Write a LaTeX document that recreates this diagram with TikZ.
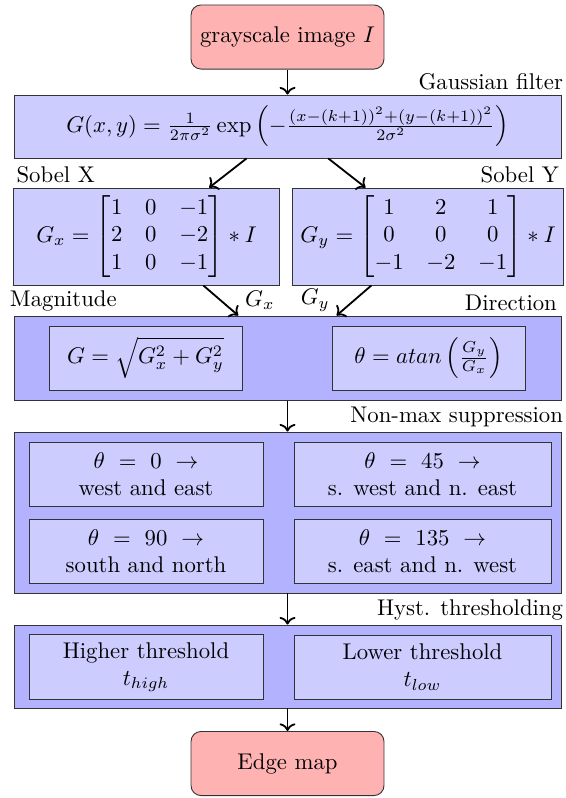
\documentclass[tikz,border=0pt]{standalone}
\usepackage{amsmath}
\usetikzlibrary{arrows.meta,calc,positioning}
\tikzset {
  >=To,
  every node/.style={font=\normalsize},
  every label/.style={yshift=-1.5pt},
}

\begin{document}
\begin{tikzpicture}[x=0.44pt,y=-0.44pt,
    terminal/.style={draw=black!80,fill=red!30,rounded corners=4.4pt,
      minimum width=84.9pt,minimum height=28.2pt},
    stage/.style={draw=black!80,fill=blue!20,align=center},
    group/.style={draw=black!80,fill=blue!30,minimum width=240.7pt},
    flow/.style={->,thick}]
  \useasboundingbox (0,0) rectangle (566,798);
  % input and Gaussian smoothing
  \node[terminal] (img) at (287.5,37) {grayscale image $I$};
  \node[stage,minimum width=240.7pt,minimum height=27.7pt,
    label={[anchor=south east,xshift=4.2pt]north east:Gaussian filter}] (gauss) at (287.5,126.5)
    {$G(x,y) = \frac{1}{2\pi\sigma^2}\exp\left(-\frac{(x-(k+1))^2+(y-(k+1))^2}{2\sigma^2}\right)$};
  % Sobel gradients
  \node[stage,minimum width=117pt,minimum height=41.8pt,
    label={[anchor=south west,xshift=-2pt]north west:Sobel X}] (sobx) at (146.5,236.5)
    {$G_x = \begin{bmatrix}1&0&-1\\2&0&-2\\1&0&-1\end{bmatrix} * I$};
  \node[stage,minimum width=117pt,minimum height=41.8pt,
    label={[anchor=south east,xshift=1.5pt]north east:Sobel Y}] (soby) at (428,236.5)
    {$G_y = \begin{bmatrix}1&2&1\\0&0&0\\-1&-2&-1\end{bmatrix} * I$};
  % magnitude and direction
  \node[group,minimum height=37pt,
    label={[anchor=south west,xshift=-5.1pt]north west:Magnitude},
    label={[anchor=south east,xshift=1.5pt]north east:Direction}] (grad) at (287.5,358) {};
  \node[stage,minimum width=84.9pt,minimum height=28.2pt] (mag) at (145.5,358)
    {$G = \sqrt{G_x^2 + G_y^2}$};
  \node[stage,minimum width=84.9pt,minimum height=28.2pt] (dir) at (428.5,358)
    {$\theta = atan\left(\frac{G_y}{G_x}\right)$};
  % non-maximum suppression
  \node[group,minimum height=70.8pt,
    label={[anchor=south east,xshift=4.2pt]north east:Non-max suppression}] (nms) at (287.5,512.5) {};
  \node[stage,minimum width=103pt,minimum height=28.2pt] (nmsa) at (146,474)
    {$\theta\ =\ 0\ \rightarrow$\\west and east};
  \node[stage,minimum width=113.1pt,minimum height=28.2pt] (nmsb) at (422.5,474)
    {$\theta\ =\ 45\ \rightarrow$\\s. west and n. east};
  \node[stage,minimum width=103pt,minimum height=28.2pt] (nmsc) at (146,551)
    {$\theta\ =\ 90\ \rightarrow$\\south and north};
  \node[stage,minimum width=113.1pt,minimum height=28.2pt] (nmsd) at (422.5,551)
    {$\theta\ =\ 135\ \rightarrow$\\s. east and n. west};
  % hysteresis
  \node[group,minimum height=36.5pt,
    label={[anchor=south east,xshift=4.2pt]north east:Hyst. thresholding}] (hyst) at (287.5,666.5) {};
  \node[stage,minimum width=103pt,minimum height=28.2pt] (high) at (146,667)
    {Higher threshold\\$t_{high}$};
  \node[stage,minimum width=113.1pt,minimum height=28.2pt] (low) at (422.5,667)
    {Lower threshold\\$t_{low}$};
  \node[terminal] (edge) at (287.5,763.5) {Edge map};

  \draw[flow] (img) -- (gauss);
  \draw[flow] (gauss) -- (sobx);
  \draw[flow] (gauss) -- (soby);
  \draw[flow] (sobx) -- (grad) node[pos=0.5,right=7pt] {$G_x$};
  \draw[flow] (soby) -- (grad) node[pos=0.5,left=7pt] {$G_y$};
  \draw[flow] (grad) -- (nms);
  \draw[flow] (nms) -- (hyst);
  \draw[flow] (hyst) -- (edge);
\end{tikzpicture}
\end{document}
